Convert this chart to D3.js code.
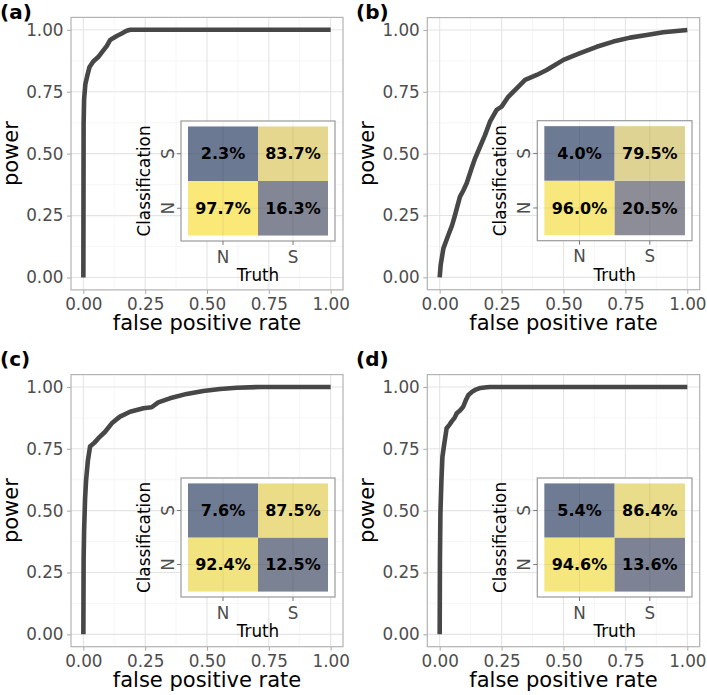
<!DOCTYPE html>
<html>
<head>
<meta charset="utf-8">
<script src="https://cdn.jsdelivr.net/npm/d3@7"></script>
<style>
  body { margin: 0; background: #fff; }
  svg { display: block; font-family: "DejaVu Sans", sans-serif; }
</style>
</head>
<body>
<svg id="chart" width="707" height="695"></svg>
<script>
// ---- data ----
var panelLabels = ["(a)", "(b)", "(c)", "(d)"];

var fprA = [0, 0.001, 0.003, 0.008, 0.016, 0.025, 0.04, 0.06, 0.077, 0.095, 0.108, 0.12, 0.135, 0.155, 0.175, 0.19, 1];
var tprA = [0, 0.62, 0.72, 0.78, 0.815, 0.85, 0.872, 0.89, 0.912, 0.935, 0.958, 0.966, 0.975, 0.985, 0.996, 1, 1];

var fprB = [0, 0.004, 0.015, 0.035, 0.05, 0.062, 0.082, 0.095, 0.109, 0.129, 0.143, 0.163, 0.183, 0.203, 0.23, 0.25, 0.277, 0.311, 0.345, 0.392, 0.432, 0.5, 0.567, 0.634, 0.701, 0.769, 0.836, 0.903, 1];
var tprB = [0, 0.05, 0.117, 0.171, 0.21, 0.252, 0.326, 0.35, 0.38, 0.441, 0.481, 0.528, 0.575, 0.629, 0.677, 0.69, 0.73, 0.764, 0.798, 0.818, 0.838, 0.879, 0.906, 0.932, 0.953, 0.969, 0.98, 0.991, 1];

var fprC = [0, 0.001, 0.003, 0.007, 0.011, 0.018, 0.027, 0.045, 0.061, 0.088, 0.115, 0.148, 0.189, 0.243, 0.276, 0.303, 0.35, 0.418, 0.485, 0.553, 0.62, 0.714, 1];
var tprC = [0, 0.3, 0.42, 0.55, 0.623, 0.7, 0.759, 0.775, 0.793, 0.819, 0.853, 0.88, 0.9, 0.914, 0.918, 0.938, 0.954, 0.972, 0.984, 0.992, 0.997, 1, 1];

var fprD = [0, 0.001, 0.003, 0.007, 0.011, 0.017, 0.028, 0.04, 0.048, 0.06, 0.069, 0.082, 0.095, 0.105, 0.116, 0.13, 0.143, 0.165, 0.19, 0.203, 1];
var tprD = [0, 0.3, 0.49, 0.62, 0.717, 0.76, 0.833, 0.848, 0.86, 0.875, 0.894, 0.905, 0.92, 0.945, 0.968, 0.98, 0.988, 0.996, 0.999, 1, 1];

var truthCats = ["N", "S"];
var classCats = ["N", "S"];
// confusion matrix cells, order: (truth N, class N), (truth N, class S), (truth S, class N), (truth S, class S)
var confA = [0.977, 0.023, 0.163, 0.837];
var confB = [0.960, 0.040, 0.205, 0.795];
var confC = [0.924, 0.076, 0.125, 0.875];
var confD = [0.946, 0.054, 0.136, 0.864];

var axisTicks = [0, 0.25, 0.5, 0.75, 1];
var minorTicks = [0.125, 0.375, 0.625, 0.875];

// ---- layout (pixels) ----
var layout = [
  {lx: 0,   ly: 19,  x0: 71,    x1: 343,   y0: 17.4,  y1: 289.9, inset: [181,   121,   154,   120]},
  {lx: 356, ly: 19,  x0: 427.3, x1: 699.7, y0: 17.6,  y1: 289.7, inset: [537.3, 120.7, 154.7, 120]},
  {lx: 0,   ly: 366, x0: 71,    x1: 343,   y0: 374.6, y1: 646.7, inset: [181,   478,   154,   119]},
  {lx: 356, ly: 366, x0: 427.3, x1: 699.7, y0: 374.6, y1: 646.7, inset: [537.3, 478,   154.7, 119]}
];

var curves = [[fprA, tprA], [fprB, tprB], [fprC, tprC], [fprD, tprD]];
var confs = [confA, confB, confC, confD];

var tileColor = d3.scaleLinear()
  .domain([0, 0.08, 0.2, 0.8, 1])
  .range(["#6a7892", "#707c93", "#8b8c96", "#e0d493", "#fdec76"]);

var svg = d3.select("#chart");
var fmt = d3.format(".2f");

layout.forEach(function (L, i) {
  var g = svg.append("g");

  var x = d3.scaleLinear().domain([-0.05, 1.05]).range([L.x0, L.x1]);
  var y = d3.scaleLinear().domain([-0.05, 1.05]).range([L.y1, L.y0]);

  // panel background + grid
  g.append("rect")
    .attr("x", L.x0).attr("y", L.y0)
    .attr("width", L.x1 - L.x0).attr("height", L.y1 - L.y0)
    .attr("fill", "#fff");

  g.selectAll(".minor-x").data(minorTicks).enter().append("line")
    .attr("x1", d => x(d)).attr("x2", d => x(d))
    .attr("y1", L.y0).attr("y2", L.y1)
    .attr("stroke", "#f0f0f0").attr("stroke-width", 0.6);
  g.selectAll(".minor-y").data(minorTicks).enter().append("line")
    .attr("y1", d => y(d)).attr("y2", d => y(d))
    .attr("x1", L.x0).attr("x2", L.x1)
    .attr("stroke", "#f0f0f0").attr("stroke-width", 0.6);
  g.selectAll(".major-x").data(axisTicks).enter().append("line")
    .attr("x1", d => x(d)).attr("x2", d => x(d))
    .attr("y1", L.y0).attr("y2", L.y1)
    .attr("stroke", "#e4e4e4").attr("stroke-width", 1.1);
  g.selectAll(".major-y").data(axisTicks).enter().append("line")
    .attr("y1", d => y(d)).attr("y2", d => y(d))
    .attr("x1", L.x0).attr("x2", L.x1)
    .attr("stroke", "#e4e4e4").attr("stroke-width", 1.1);

  // axes
  var xAxis = g.append("g")
    .attr("transform", `translate(0,${L.y1})`)
    .call(d3.axisBottom(x).tickValues(axisTicks).tickFormat(fmt).tickSize(4).tickPadding(4));
  var yAxis = g.append("g")
    .attr("transform", `translate(${L.x0},0)`)
    .call(d3.axisLeft(y).tickValues(axisTicks).tickFormat(fmt).tickSize(4).tickPadding(3.5));
  [xAxis, yAxis].forEach(function (a) {
    a.select(".domain").remove();
    a.selectAll(".tick line").attr("stroke", "#a8a8a8").attr("stroke-width", 1);
    a.selectAll(".tick text")
      .attr("fill", "#4d4d4d")
      .style("font-size", "16.8px")
      .style("font-family", "DejaVu Sans, sans-serif");
  });
  xAxis.selectAll(".tick text").attr("dy", null).attr("y", 20.5);

  // panel border
  g.append("rect")
    .attr("x", L.x0).attr("y", L.y0)
    .attr("width", L.x1 - L.x0).attr("height", L.y1 - L.y0)
    .attr("fill", "none").attr("stroke", "#b3b3b3").attr("stroke-width", 1.2);

  // ROC curve
  var pts = d3.zip(curves[i][0], curves[i][1]);
  g.append("path")
    .datum(pts)
    .attr("d", d3.line().x(d => x(d[0])).y(d => y(d[1])))
    .attr("fill", "none")
    .attr("stroke", "#474747")
    .attr("stroke-width", 4.6)
    .attr("stroke-linejoin", "round");

  // axis titles
  g.append("text")
    .attr("x", (L.x0 + L.x1) / 2).attr("y", L.y1 + 40)
    .attr("text-anchor", "middle")
    .style("font-size", "21px")
    .text("false positive rate");
  g.append("text")
    .attr("transform", `translate(${L.x0 - 53.5},${(L.y0 + L.y1) / 2}) rotate(-90)`)
    .attr("text-anchor", "middle")
    .style("font-size", "21px")
    .text("power");

  // panel tag
  g.append("text")
    .attr("x", L.lx).attr("y", L.ly)
    .style("font-size", "20px").style("font-weight", "bold")
    .text(panelLabels[i]);

  // ---- inset confusion matrix ----
  var ix = L.inset[0], iy = L.inset[1], iw = L.inset[2], ih = L.inset[3];
  var bx = d3.scaleBand().domain(truthCats).range([ix, ix + iw]).paddingInner(0).paddingOuter(0.1);
  var by = d3.scaleBand().domain(classCats).range([iy + ih, iy]).paddingInner(0).paddingOuter(0.1);

  var cells = [];
  truthCats.forEach(function (t, ti) {
    classCats.forEach(function (c, ci) {
      cells.push({truth: t, cls: c, value: confs[i][ti * 2 + ci]});
    });
  });

  var ig = g.append("g");
  ig.append("rect")
    .attr("x", ix).attr("y", iy).attr("width", iw).attr("height", ih)
    .attr("fill", "#fff");

  ig.selectAll(".tile").data(cells).enter().append("rect")
    .attr("x", d => bx(d.truth))
    .attr("y", d => by(d.cls))
    .attr("width", bx.bandwidth())
    .attr("height", by.bandwidth())
    .attr("fill", d => tileColor(d.value));

  // faint inset gridlines showing through the tiles
  ig.selectAll(".igx").data(truthCats).enter().append("line")
    .attr("x1", d => bx(d) + bx.bandwidth() / 2).attr("x2", d => bx(d) + bx.bandwidth() / 2)
    .attr("y1", iy).attr("y2", iy + ih)
    .attr("stroke", "#000").attr("stroke-opacity", 0.06).attr("stroke-width", 1.1);
  ig.selectAll(".igy").data(classCats).enter().append("line")
    .attr("y1", d => by(d) + by.bandwidth() / 2).attr("y2", d => by(d) + by.bandwidth() / 2)
    .attr("x1", ix).attr("x2", ix + iw)
    .attr("stroke", "#000").attr("stroke-opacity", 0.06).attr("stroke-width", 1.1);

  ig.selectAll(".lbl").data(cells).enter().append("text")
    .attr("x", d => bx(d.truth) + bx.bandwidth() / 2)
    .attr("y", d => by(d.cls) + by.bandwidth() / 2)
    .attr("dy", "0.36em")
    .attr("text-anchor", "middle")
    .style("font-size", "16px").style("font-weight", "bold")
    .attr("fill", "#000")
    .text(d => d3.format(".1f")(d.value * 100) + "%");

  ig.append("rect")
    .attr("x", ix).attr("y", iy).attr("width", iw).attr("height", ih)
    .attr("fill", "none").attr("stroke", "#999").attr("stroke-width", 1.2);

  // inset axes
  ig.selectAll(".itx").data(truthCats).enter().append("line")
    .attr("x1", d => bx(d) + bx.bandwidth() / 2).attr("x2", d => bx(d) + bx.bandwidth() / 2)
    .attr("y1", iy + ih).attr("y2", iy + ih + 4)
    .attr("stroke", "#777").attr("stroke-width", 1);
  ig.selectAll(".itxl").data(truthCats).enter().append("text")
    .attr("x", d => bx(d) + bx.bandwidth() / 2)
    .attr("y", iy + ih + 21.5)
    .attr("text-anchor", "middle")
    .attr("fill", "#4d4d4d")
    .style("font-size", "16.8px")
    .text(d => d);
  ig.selectAll(".ity").data(classCats).enter().append("line")
    .attr("y1", d => by(d) + by.bandwidth() / 2).attr("y2", d => by(d) + by.bandwidth() / 2)
    .attr("x1", ix - 4).attr("x2", ix)
    .attr("stroke", "#777").attr("stroke-width", 1);
  ig.selectAll(".ityl").data(classCats).enter().append("text")
    .attr("transform", d => `translate(${ix - 7.5},${by(d) + by.bandwidth() / 2}) rotate(-90)`)
    .attr("text-anchor", "middle")
    .attr("fill", "#4d4d4d")
    .style("font-size", "16.8px")
    .text(d => d);

  ig.append("text")
    .attr("x", ix + iw / 2).attr("y", iy + ih + 40)
    .attr("text-anchor", "middle")
    .style("font-size", "16.8px")
    .text("Truth");
  ig.append("text")
    .attr("transform", `translate(${ix - 31},${iy + ih / 2}) rotate(-90)`)
    .attr("text-anchor", "middle")
    .style("font-size", "16.8px")
    .text("Classification");
});
</script>
</body>
</html>
